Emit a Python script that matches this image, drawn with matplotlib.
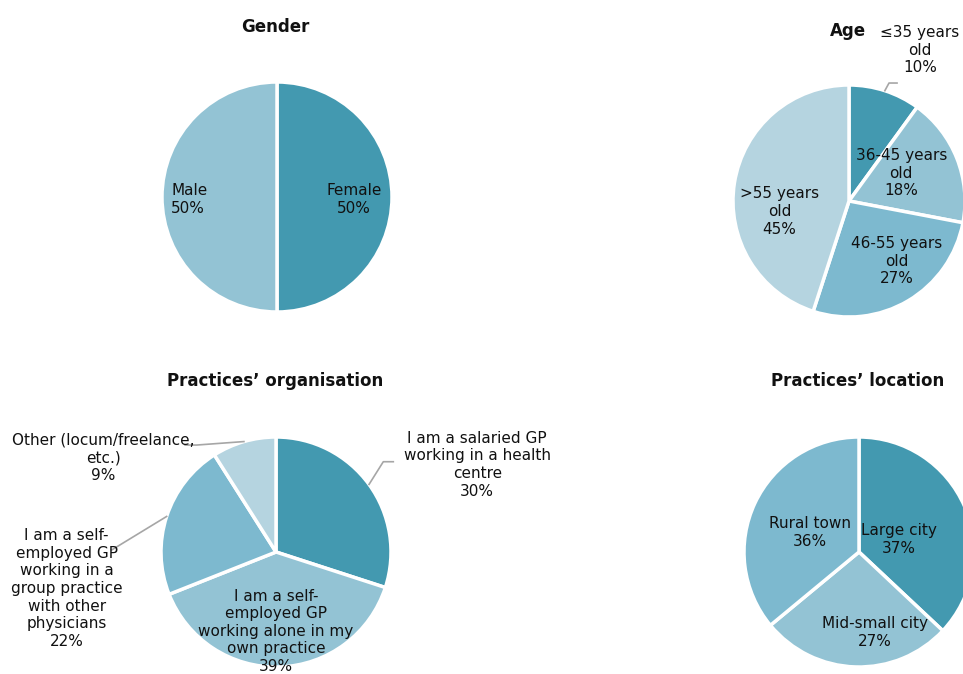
"""Four survey pies: gender, age, practice organisation, practice location."""

import numpy as np
import matplotlib

matplotlib.use("Agg")
import matplotlib.pyplot as plt

plt.rcParams["font.family"] = ["DejaVu Sans"]

# ---- data -----------------------------------------------------------------
gender_labels = ["Female", "Male"]
gender_values = [50, 50]

age_labels = ["\u226435 years\nold", "36-45 years\nold", "46-55 years\nold", ">55 years\nold"]
age_values = [10, 18, 27, 45]

org_labels = [
    "I am a salaried GP\nworking in a health\ncentre",
    "I am a self-\nemployed GP\nworking alone in my\nown practice",
    "I am a self-\nemployed GP\nworking in a\ngroup practice\nwith other\nphysicians",
    "Other (locum/freelance,\netc.)",
]
org_values = [30, 39, 22, 9]

loc_labels = ["Large city", "Mid-small city", "Rural town"]
loc_values = [37, 27, 36]

# ---- style ----------------------------------------------------------------
DARK = "#4399b0"
MID = "#7db9cf"
LIGHT = "#93c3d4"
PALE = "#b5d4e0"
LEADER = "#a6a6a6"
TEXT = "#111111"

W, H = 963, 674

# chart layout: centre (px), radius (px), title position (px),
# label positions in pie-radius units, optional leader elbows
charts = [
    dict(
        title="Gender", title_xy=(275, 27),
        center=(277, 197), radius=115,
        labels=gender_labels, values=gender_values, colors=[DARK, LIGHT],
        label_xy=[(0.67, -0.02), (-0.92, -0.02)],
        label_ha=["center", "left"],
        leaders={},
    ),
    dict(
        title="Age", title_xy=(848, 31),
        center=(849, 201), radius=116,
        labels=age_labels, values=age_values, colors=[DARK, LIGHT, MID, PALE],
        label_xy=[(0.61, 1.30), (0.45, 0.24), (0.41, -0.52), (-0.60, -0.09)],
        label_ha=["center"] * 4,
        leaders={0: [(0.345, 1.017), (0.414, 1.017)]},
    ),
    dict(
        title="Practices\u2019 organisation", title_xy=(275, 381),
        center=(276, 552), radius=115,
        labels=org_labels, values=org_values, colors=[DARK, LIGHT, MID, PALE],
        label_xy=[(1.75, 0.76), (0.0, -0.69), (-1.82, -0.317), (-1.504, 0.817)],
        label_ha=["center"] * 4,
        leaders={
            0: [(0.933, 0.785), (1.02, 0.785)],
            2: [(-1.43, 0.017)],
            3: [(-0.69, 0.93), (-0.79, 0.93)],
        },
    ),
    dict(
        title="Practices\u2019 location", title_xy=(858, 381),
        center=(859, 552), radius=115,
        labels=loc_labels, values=loc_values, colors=[DARK, LIGHT, MID],
        label_xy=[(0.35, 0.11), (0.14, -0.70), (-0.43, 0.17)],
        label_ha=["center"] * 3,
        leaders={},
    ),
]


def draw_pie(fig, spec):
    cx, cy = spec["center"]
    r = spec["radius"]
    ax = fig.add_axes([(cx - r) / W, (H - cy - r) / H, 2 * r / W, 2 * r / H])
    values = spec["values"]
    wedges, _ = ax.pie(
        values,
        colors=spec["colors"],
        startangle=90,
        counterclock=False,
        radius=1,
        wedgeprops=dict(edgecolor="white", linewidth=2.5),
    )
    ax.set_xlim(-1, 1)
    ax.set_ylim(-1, 1)
    ax.set_aspect("equal")
    ax.axis("off")

    for i, wedge in enumerate(wedges):
        x, y = spec["label_xy"][i]
        ha = spec["label_ha"][i]
        ax.text(
            x, y, f"{spec['labels'][i]}\n{values[i]}%",
            ha=ha, va="center", multialignment=ha,
            fontsize=11, color=TEXT, linespacing=1.22, clip_on=False,
        )
        if i in spec["leaders"]:
            mid = np.deg2rad((wedge.theta1 + wedge.theta2) / 2)
            pts = [(np.cos(mid), np.sin(mid))] + spec["leaders"][i]
            xs, ys = zip(*pts)
            ax.plot(xs, ys, color=LEADER, linewidth=1.2, clip_on=False)

    tx, ty = spec["title_xy"]
    fig.text(tx / W, 1 - ty / H, spec["title"], ha="center", va="center",
             fontsize=12, fontweight="bold", color=TEXT)


def main():
    fig = plt.figure(figsize=(W / 100, H / 100), dpi=100)
    fig.patch.set_facecolor("white")
    for spec in charts:
        draw_pie(fig, spec)
    fig.savefig("out.png", dpi=100)


if __name__ == "__main__":
    main()
